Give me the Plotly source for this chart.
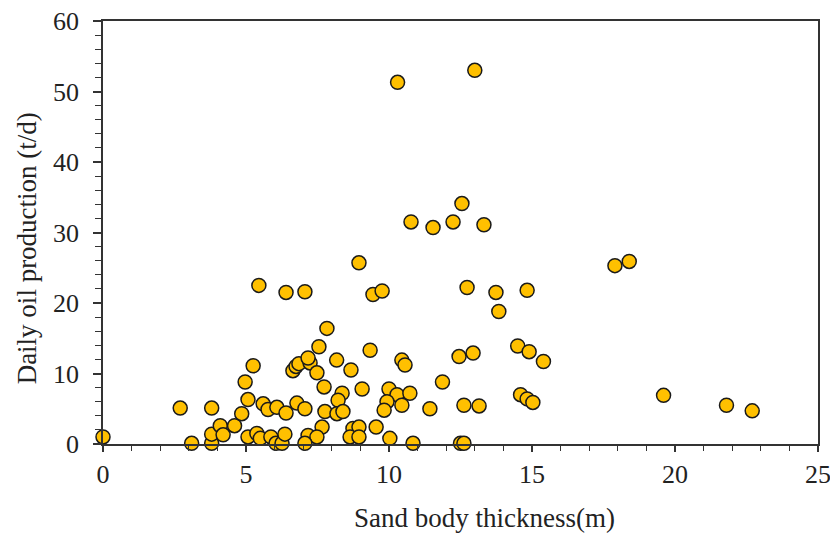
import plotly.graph_objects as go

thickness = [0.0, 2.7, 3.1, 3.8, 3.8, 3.8, 4.1, 4.2, 4.6, 4.85, 4.97, 5.25, 5.07, 5.07, 5.38, 5.5, 5.6, 5.77,
             6.08, 5.87, 6.05, 6.26, 6.4, 6.36, 6.64, 6.75, 6.85, 7.24, 7.17, 7.55, 7.48, 7.83, 8.17, 8.67,
             9.34, 10.45, 10.56, 12.45, 12.94, 11.87, 7.73, 8.36, 8.22, 9.06, 10.0, 10.28, 10.73, 9.93, 10.45,
             9.83, 11.43, 12.62, 6.78, 7.06, 7.76, 8.18, 8.39, 7.66, 8.74, 8.95, 9.55, 7.17, 7.48, 8.64, 8.95,
             10.03, 7.06, 10.84, 12.5, 12.62, 14.5, 14.9, 15.4, 13.15, 14.6, 14.83, 15.03, 17.9, 18.4, 19.6,
             21.8, 22.7, 5.45, 6.4, 7.06, 8.95, 9.44, 9.76, 12.55, 10.77, 11.54, 12.24, 13.32, 12.73, 13.74,
             14.83, 13.84, 10.3, 13.0]
oil = [1.0, 5.1, 0.1, 5.1, 0.1, 1.4, 2.6, 1.3, 2.6, 4.3, 8.8, 11.1, 6.3, 1.0, 1.5, 0.8, 5.7, 4.9,
       5.2, 1.0, 0.1, 0.1, 4.4, 1.4, 10.4, 11.0, 11.4, 11.5, 12.2, 13.8, 10.1, 16.4, 11.9, 10.5,
       13.3, 11.9, 11.2, 12.4, 12.9, 8.8, 8.1, 7.2, 6.2, 7.8, 7.8, 7.0, 7.2, 6.0, 5.5,
       4.8, 5.0, 5.5, 5.8, 5.0, 4.6, 4.3, 4.6, 2.4, 2.2, 2.4, 2.4, 1.2, 1.0, 1.0, 1.0,
       0.8, 0.1, 0.1, 0.1, 0.1, 13.9, 13.1, 11.7, 5.4, 7.0, 6.4, 5.9, 25.3, 25.9, 6.9,
       5.5, 4.7, 22.5, 21.5, 21.6, 25.7, 21.2, 21.7, 34.1, 31.5, 30.7, 31.5, 31.1, 22.2, 21.5,
       21.8, 18.8, 51.3, 53.0]

x_ticks = [0, 5, 10, 15, 20, 25]
y_ticks = [0, 10, 20, 30, 40, 50, 60]
x_title = "Sand body thickness(m)"
y_title = "Daily oil production (t/d)"

font_family = "Liberation Serif, Times New Roman, serif"

fig = go.Figure(go.Scatter(
    x=thickness, y=oil, mode="markers",
    marker=dict(size=14, color="#FFC000", line=dict(color="#1a1a1a", width=1.5)),
    cliponaxis=False,
))

fig.update_layout(
    width=830, height=534,
    margin=dict(l=103, r=12, t=21, b=90),
    plot_bgcolor="white", paper_bgcolor="white",
    showlegend=False,
    font=dict(family=font_family, size=26, color="#222"),
    annotations=[
        dict(text=x_title, xref="paper", yref="paper", x=0.533, y=-0.175,
             xanchor="center", yanchor="middle", showarrow=False, font=dict(size=27)),
        dict(text=y_title, xref="paper", yref="paper", x=-0.106, y=0.463, textangle=-90,
             xanchor="center", yanchor="middle", showarrow=False, font=dict(size=27)),
    ],
)
fig.update_xaxes(
    range=[0, 25], tickvals=x_ticks, ticks="outside", ticklen=6, tickwidth=1.5, tickcolor="#333",
    minor=dict(dtick=1, ticks="outside", ticklen=5, tickwidth=1.2, tickcolor="#333"),
    showline=True, linecolor="#333", linewidth=1.5, mirror=True, showgrid=False, zeroline=False,
    automargin=False, ticklabeloverflow="allow",
    tickfont=dict(size=26),
)
fig.update_yaxes(
    range=[0, 60], tickvals=y_ticks, ticks="outside", ticklen=8, tickwidth=1.5, tickcolor="#333",
    minor=dict(dtick=2, ticks="outside", ticklen=6, tickwidth=1.2, tickcolor="#333"),
    showline=True, linecolor="#333", linewidth=1.5, mirror=True, showgrid=False, zeroline=False,
    automargin=False, ticklabelstandoff=9, ticklabeloverflow="allow",
    tickfont=dict(size=26),
)

fig.write_html("out.html")
